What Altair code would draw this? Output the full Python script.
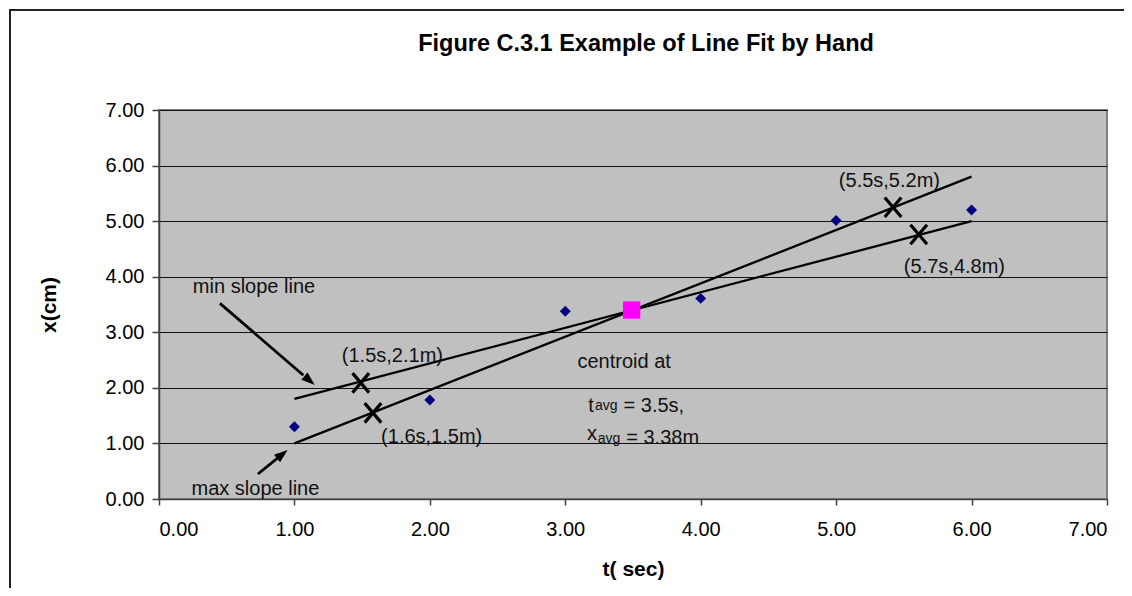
import math
import altair as alt
import pandas as pd

FONT = "Liberation Sans"

TITLE = "Figure C.3.1 Example of Line Fit by Hand"

# measured data points (t in s, x in cm)
t_vals = [1, 2, 3, 4, 5, 6]
x_vals = [1.30, 1.78, 3.38, 3.61, 5.01, 5.20]

# centroid
centroid_t = [3.49]
centroid_x = [3.40]

# hand-fit lines
line_names = ["max", "max", "min", "min"]
line_t = [1.0, 6.0, 1.0, 6.0]
line_x = [1.0, 5.8, 1.8, 5.0]

# X markers on the lines
cross_t = [1.49, 1.58, 5.42, 5.61]
cross_x = [2.09, 1.55, 5.25, 4.76]

# annotation labels
label_texts = ["(1.5s,2.1m)", "(1.6s,1.5m)", "(5.5s,5.2m)", "(5.7s,4.8m)",
               "min slope line", "max slope line", "centroid at",
               "t", "= 3.5s,", "x", "= 3.38m"]
label_t = [1.35, 1.64, 5.02, 5.50, 0.25, 0.24, 3.09, 3.17, 3.43, 3.16, 3.45]
label_x = [2.47, 1.00, 5.61, 4.07, 3.71, 0.07, 2.35, 1.57, 1.57, 1.06, 0.99]

sub_texts = ["avg", "avg"]
sub_t = [3.22, 3.24]
sub_x = [1.60, 1.01]

# arrows: start and tip
arrow_t_start = [0.45, 0.73]
arrow_x_start = [3.52, 0.45]
arrow_t_tip = [1.15, 0.95]
arrow_x_tip = [2.05, 0.88]

W, H = 948, 389
XMAX, YMAX = 7.0, 7.0

df_pts = pd.DataFrame({"t": t_vals, "x": x_vals})
df_cen = pd.DataFrame({"t": centroid_t, "x": centroid_x})
df_lines = pd.DataFrame({"t": line_t, "x": line_x, "line": line_names})
df_cross = pd.DataFrame({"t": cross_t, "x": cross_x})
df_lab = pd.DataFrame({"t": label_t, "x": label_x, "label": label_texts})
df_sub = pd.DataFrame({"t": sub_t, "x": sub_x, "label": sub_texts})

# arrow shafts and heads
shaft_rows, head_rows = [], []
for ts, xs, tt, xt in zip(arrow_t_start, arrow_x_start, arrow_t_tip, arrow_x_tip):
    f = 0.88
    shaft_rows.append({"t": ts, "x": xs, "t2": ts + f * (tt - ts), "x2": xs + f * (xt - xs)})
    dx = (tt - ts) * W / XMAX
    dy = -(xt - xs) * H / YMAX
    ang = math.degrees(math.atan2(dx, -dy)) % 360
    head_rows.append({"t": tt, "x": xt, "ang": ang})
df_shaft = pd.DataFrame(shaft_rows)
df_head = pd.DataFrame(head_rows)

xscale = alt.Scale(domain=[0, XMAX], nice=False, zero=True)
yscale = alt.Scale(domain=[0, YMAX], nice=False, zero=True)

xaxis = alt.Axis(values=[0, 1, 2, 3, 4, 5, 6, 7], format=".2f", grid=False,
                 tickSize=6, labelPadding=14, titlePadding=19)
yaxis = alt.Axis(values=[0, 1, 2, 3, 4, 5, 6, 7], format=".2f", grid=True,
                 gridColor="#111111", gridWidth=1, gridOpacity=1,
                 tickSize=7, labelPadding=8, titlePadding=46)


def X(field="t"):
    return alt.X(f"{field}:Q", scale=xscale, axis=xaxis, title="t( sec)")


def Y(field="x"):
    return alt.Y(f"{field}:Q", scale=yscale, axis=yaxis, title="x(cm)")


frame = alt.Chart(pd.DataFrame({"a": [0]})).mark_rect(
    fillOpacity=0, stroke="#222222", strokeWidth=2
).encode(x=alt.value(-149), x2=alt.value(1100), y=alt.value(-100), y2=alt.value(700))

title = alt.Chart(pd.DataFrame({"label": [TITLE]})).mark_text(
    align="center", baseline="middle", font=FONT, fontSize=23.5,
    fontWeight="bold", color="black"
).encode(x=alt.value(487), y=alt.value(-66), text="label:N")

lines = alt.Chart(df_lines).mark_line(color="black", strokeWidth=2.3).encode(
    x=X(), y=Y(), detail="line:N"
)

points = alt.Chart(df_pts).mark_point(
    shape="diamond", filled=True, color="#000080", size=120, opacity=1
).encode(x=X(), y=Y())

centroid = alt.Chart(df_cen).mark_point(
    shape="square", filled=True, color="#FF00FF", size=300, opacity=1
).encode(x=X(), y=Y())

crosses = alt.Chart(df_cross).mark_point(
    shape="M-0.85,-1L0.85,1M-0.85,1L0.85,-1", filled=False, color="black",
    size=380, strokeWidth=3.2, opacity=1
).encode(x=X(), y=Y())

shafts = alt.Chart(df_shaft).mark_rule(color="black", strokeWidth=2.8).encode(
    x=X(), y=Y(), x2="t2:Q", y2="x2:Q"
)

heads = alt.Chart(df_head).mark_point(
    shape="M0,0L0.6,1.7L-0.6,1.7Z", filled=True, color="black", size=256, opacity=1
).encode(x=X(), y=Y(), angle=alt.Angle("ang:Q", scale=None))

labels = alt.Chart(df_lab).mark_text(
    align="left", baseline="alphabetic", font=FONT, fontSize=20, color="#111111"
).encode(x=X(), y=Y(), text="label:N")

subs = alt.Chart(df_sub).mark_text(
    align="left", baseline="alphabetic", font=FONT, fontSize=14, color="#111111"
).encode(x=X(), y=Y(), text="label:N")

chart = alt.layer(
    frame, title, lines, points, centroid, crosses, shafts, heads, labels, subs
).properties(
    width=W, height=H,
    autosize="none",
    padding={"left": 151, "top": 102, "right": 17, "bottom": 89},
).configure_view(
    fill="#C0C0C0", stroke="#808080", strokeWidth=2
).configure_axis(
    labelFont=FONT, labelFontSize=20, labelColor="black",
    titleFont=FONT, titleFontSize=21, titleFontWeight="bold", titleColor="black",
    domainColor="#404040", domainWidth=1.5, tickColor="#404040", tickWidth=1.5
)

chart.save("out.html", embed_options={"renderer": "svg", "actions": False})
